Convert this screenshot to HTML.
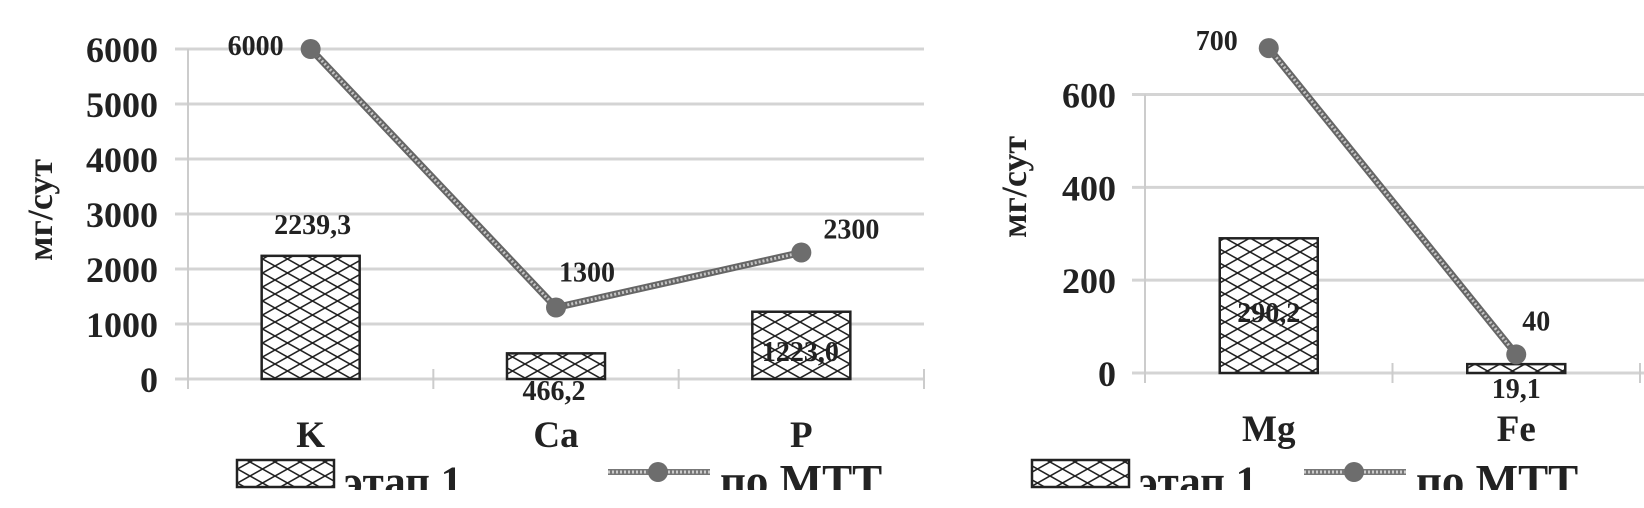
<!DOCTYPE html>
<html><head><meta charset="utf-8"><style>
html,body{margin:0;padding:0;background:#fff;width:1644px;height:508px;overflow:hidden}
svg text{font-family:"Liberation Serif",serif;font-weight:bold;fill:#222}
</style></head><body>
<svg id="chart" width="1644" height="508" viewBox="0 0 1644 508" xmlns="http://www.w3.org/2000/svg">
<defs>
<pattern id="hatch" patternUnits="userSpaceOnUse" width="25" height="14">
<rect width="25" height="14" fill="#fff"/>
<path d="M0 0 L25 14 M25 0 L0 14" stroke="#222" stroke-width="1.6"/>
</pattern>
<clipPath id="legclip"><rect x="0" y="0" width="1644" height="490"/></clipPath>
</defs>
<g id="left"></g>
<g id="right"></g>
</svg>
<script>
const NS='http://www.w3.org/2000/svg';
const leftCategories=['K','Ca','P'];
const leftBars=[2239.3,466.2,1223.0];
const leftBarLabels=['2239,3','466,2','1223,0'];
const leftLine=[6000,1300,2300];
const leftLineLabels=['6000','1300','2300'];
const leftTicks=[0,1000,2000,3000,4000,5000,6000];
const rightCategories=['Mg','Fe'];
const rightBars=[290.2,19.1];
const rightBarLabels=['290,2','19,1'];
const rightLine=[700,40];
const rightLineLabels=['700','40'];
const rightTicks=[0,200,400,600];

function mk(parent,tag,attrs,text){const e=document.createElementNS(NS,tag);for(const k in attrs)e.setAttribute(k,attrs[k]);if(text!==undefined)e.textContent=text;parent.appendChild(e);return e;}

function draw(g,cfg){
  const y=v=>cfg.y0-(v/cfg.vmax)*(cfg.y0-cfg.yTop);
  const bw=(cfg.x1-cfg.x0)/cfg.cats.length;
  const cx=i=>cfg.x0+bw*(i+0.5);
  cfg.ticks.forEach(t=>{
    const l=mk(g,'line',{x1:cfg.x0-13,x2:cfg.gridEnd,y1:y(t),y2:y(t),stroke:'#d4d4d4','stroke-width':3});
    
    const tx=mk(g,'text',{x:cfg.tickX,y:y(t)+13,'text-anchor':'end','font-size':36},String(t));
    
  });
  const ax=mk(g,'line',{x1:cfg.x0,x2:cfg.x0,y1:cfg.yTop,y2:cfg.y0+10,stroke:'#ccc','stroke-width':2});
  
  for(let i=1;i<=cfg.cats.length;i++){
    const tk=mk(g,'line',{x1:cfg.x0+bw*i,x2:cfg.x0+bw*i,y1:cfg.y0-10,y2:cfg.y0+10,stroke:'#ccc','stroke-width':2});
    
  }
  const yt=mk(g,'text',{x:0,y:0,'text-anchor':'middle','font-size':36,transform:`translate(${cfg.titleX},${cfg.titleY}) rotate(-90)`},'мг/сут');
  
  cfg.cats.forEach((c,i)=>{
    const b=mk(g,'rect',{x:cx(i)-49,y:y(cfg.bars[i]),width:98,height:cfg.y0-y(cfg.bars[i]),fill:'url(#hatch)',stroke:'#222','stroke-width':2.5});
    
    const cl=mk(g,'text',{x:cx(i),y:cfg.catY,'text-anchor':'middle','font-size':37},c);
    
    const bl=mk(g,'text',{x:cx(i)+cfg.barLabDx[i],y:cfg.barLabY[i],'text-anchor':'middle','font-size':28},cfg.barLabels[i]);
    
  });
  const pts=cfg.line.map((v,i)=>cx(i)+','+y(v)).join(' ');
  const pl=mk(g,'polyline',{points:pts,fill:'none',stroke:'#666','stroke-width':7});
  
  const pl2=mk(g,'polyline',{points:pts,fill:'none',stroke:'#c4c4c4','stroke-width':3,'stroke-dasharray':'2 2'});
  
  cfg.line.forEach((v,i)=>{
    const c=mk(g,'circle',{cx:cx(i),cy:y(v),r:10,fill:'#6d6d6d'});
    
    const l=mk(g,'text',{x:cx(i)+cfg.lineLabDx[i],y:y(v)+cfg.lineLabDy[i],'text-anchor':'middle','font-size':28},cfg.lineLabels[i]);
    
  });
  const leg=mk(g,'g',{'clip-path':'url(#legclip)'});
  
  const lb=mk(leg,'rect',{x:cfg.legBox,y:460,width:97,height:27,fill:'url(#hatch)',stroke:'#222','stroke-width':2.5});
  
  const lt=mk(leg,'text',{x:cfg.legBox+107,y:496,'font-size':43},'этап 1');
  
  const ll=mk(leg,'line',{x1:cfg.legLine,x2:cfg.legLine+102,y1:472,y2:472,stroke:'#777','stroke-width':6});
  
  const ll2=mk(leg,'line',{x1:cfg.legLine,x2:cfg.legLine+102,y1:472,y2:472,stroke:'#ccc','stroke-width':3,'stroke-dasharray':'2 2'});
  
  const lc=mk(leg,'circle',{cx:cfg.legLine+50,cy:472,r:10,fill:'#6d6d6d'});
  
  const lt2=mk(leg,'text',{x:cfg.legLine+112,y:496,'font-size':45},'по МТТ');
  
}
draw(document.getElementById('left'),{cats:leftCategories,bars:leftBars,barLabels:leftBarLabels,line:leftLine,lineLabels:leftLineLabels,ticks:leftTicks,
  vmax:6000,x0:188,x1:924,gridEnd:924,y0:379,yTop:49,tickX:158,titleX:52,titleY:210,catY:447,
  barLabDx:[2,-2,-1],barLabY:[234,400,361],lineLabDx:[-55,31,50],lineLabDy:[6,-26,-14],legBox:237,legLine:608});
draw(document.getElementById('right'),{cats:rightCategories,bars:rightBars,barLabels:rightBarLabels,line:rightLine,lineLabels:rightLineLabels,ticks:rightTicks,
  vmax:600,x0:1145,x1:1640,gridEnd:1644,y0:373,yTop:94.5,tickX:1116,titleX:1026,titleY:187,catY:441,
  barLabDx:[0,0],barLabY:[322,398],lineLabDx:[-52,20],lineLabDy:[2,-24],legBox:1032,legLine:1304});
</script>
</body></html>
